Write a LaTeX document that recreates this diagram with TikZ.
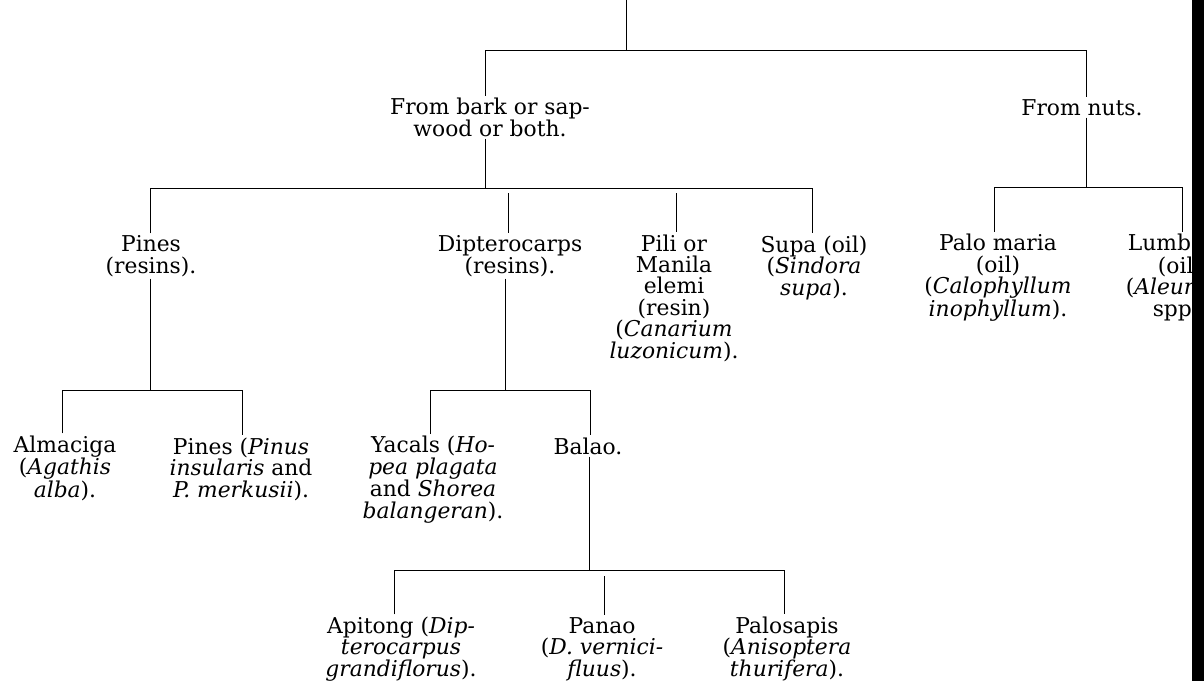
\documentclass[tikz,border=0pt]{standalone}
\usepackage{fontspec}
\setmainfont{DejaVu Serif}
\begin{document}
\begin{tikzpicture}[x=1pt,y=-1pt,
  tx/.style={align=center, inner sep=2pt, font=\fontsize{21.8}{21.4}\selectfont, anchor=base},
  ln/.style={line width=0.8pt, black}]
\useasboundingbox (0,0) rectangle (1204,681);
\fill[white] (0,0) rectangle (1204,681);

% text nodes (anchor = baseline of the last line)
\node[tx] (frombark) at (490,136) {From bark or sap-\\wood or both.};
\node[tx] (fromnuts) at (1082,115) {From nuts.};
\node[tx] (pines) at (151,273) {Pines\\(resins).};
\node[tx] (dipt) at (510,273) {Dipterocarps\\(resins).};
\node[tx] (pili) at (674,358) {Pili or\\Manila\\elemi\\(resin)\\(\textit{Canarium}\\\textit{luzonicum}).};
\node[tx] (supa) at (814,295) {Supa (oil)\\(\textit{Sindora}\\\textit{supa}).};
\node[tx] (palo) at (998,316) {Palo maria\\(oil)\\(\textit{Calophyllum}\\\textit{inophyllum}).};
\node[tx] (lumbang) at (1180,316) {Lumbang\\(oil)\\(\textit{Aleurites}\\spp.)};
\node[tx] (almaciga) at (65,497) {Almaciga\\(\textit{Agathis}\\\textit{alba}).};
\node[tx] (pinestwo) at (241,497) {Pines (\textit{Pinus}\\\textit{insularis} and\\\textit{P. merkusii}).};
\node[tx] (yacals) at (433,518) {Yacals (\textit{Ho-}\\\textit{pea plagata}\\and \textit{Shorea}\\\textit{balangeran}).};
\node[tx] (balao) at (588,454) {Balao.};
\node[tx] (apitong) at (401,676) {Apitong (\textit{Dip-}\\\textit{terocarpus}\\\textit{grandiflorus}).};
\node[tx] (panao) at (602,676) {Panao\\(\textit{D. vernici-}\\\textit{fluus}).};
\node[tx] (palosapis) at (787,676) {Palosapis\\(\textit{Anisoptera}\\\textit{thurifera}).};

% junction coordinates
\coordinate (top) at (626,0);
\coordinate (amid) at (626,50);
\coordinate (a1) at (485,50);
\coordinate (a2) at (1086,50);
\coordinate (b1l) at (150,188);
\coordinate (b1m) at (485,188);
\coordinate (b1r) at (812,188);
\coordinate (dtop) at (508,193);
\coordinate (ptop) at (676,193);
\coordinate (c1) at (994,187);
\coordinate (c2) at (1182,187);
\coordinate (cm) at (1086,187);
\coordinate (d1) at (62,390);
\coordinate (d2) at (242,390);
\coordinate (dm) at (150,390);
\coordinate (e1) at (430,390);
\coordinate (e2) at (590,390);
\coordinate (em) at (505,390);
\coordinate (f1) at (394,570);
\coordinate (f2) at (784,570);
\coordinate (fm) at (589,570);
\coordinate (fp) at (604,576);

% connectors
\draw[ln] (top) -- (amid);
\draw[ln] (frombark.north -| a1) -- (a1) -- (a2) -- (fromnuts.north -| a2);
\draw[ln] (frombark.south -| b1m) -- (b1m);
\draw[ln] (pines.north -| b1l) -- (b1l) -- (b1r) -- (supa.north -| b1r);
\draw[ln] (dtop) -- (dipt.north -| dtop);
\draw[ln] (ptop) -- (pili.north -| ptop);
\draw[ln] (fromnuts.south -| cm) -- (cm);
\draw[ln] (palo.north -| c1) -- (c1) -- (c2) -- (lumbang.north -| c2);
\draw[ln] (pines.south -| dm) -- (dm);
\draw[ln] (almaciga.north -| d1) -- (d1) -- (d2) -- (pinestwo.north -| d2);
\draw[ln] (dipt.south -| em) -- (em);
\draw[ln] (yacals.north -| e1) -- (e1) -- (e2) -- (balao.north -| e2);
\draw[ln] (balao.south -| fm) -- (fm);
\draw[ln] (apitong.north -| f1) -- (f1) -- (f2) -- (palosapis.north -| f2);
\draw[ln] (fp) -- (panao.north -| fp);

% dark strip at right edge
\fill[black] (1192,0) rectangle (1204,681);
\end{tikzpicture}
\end{document}
